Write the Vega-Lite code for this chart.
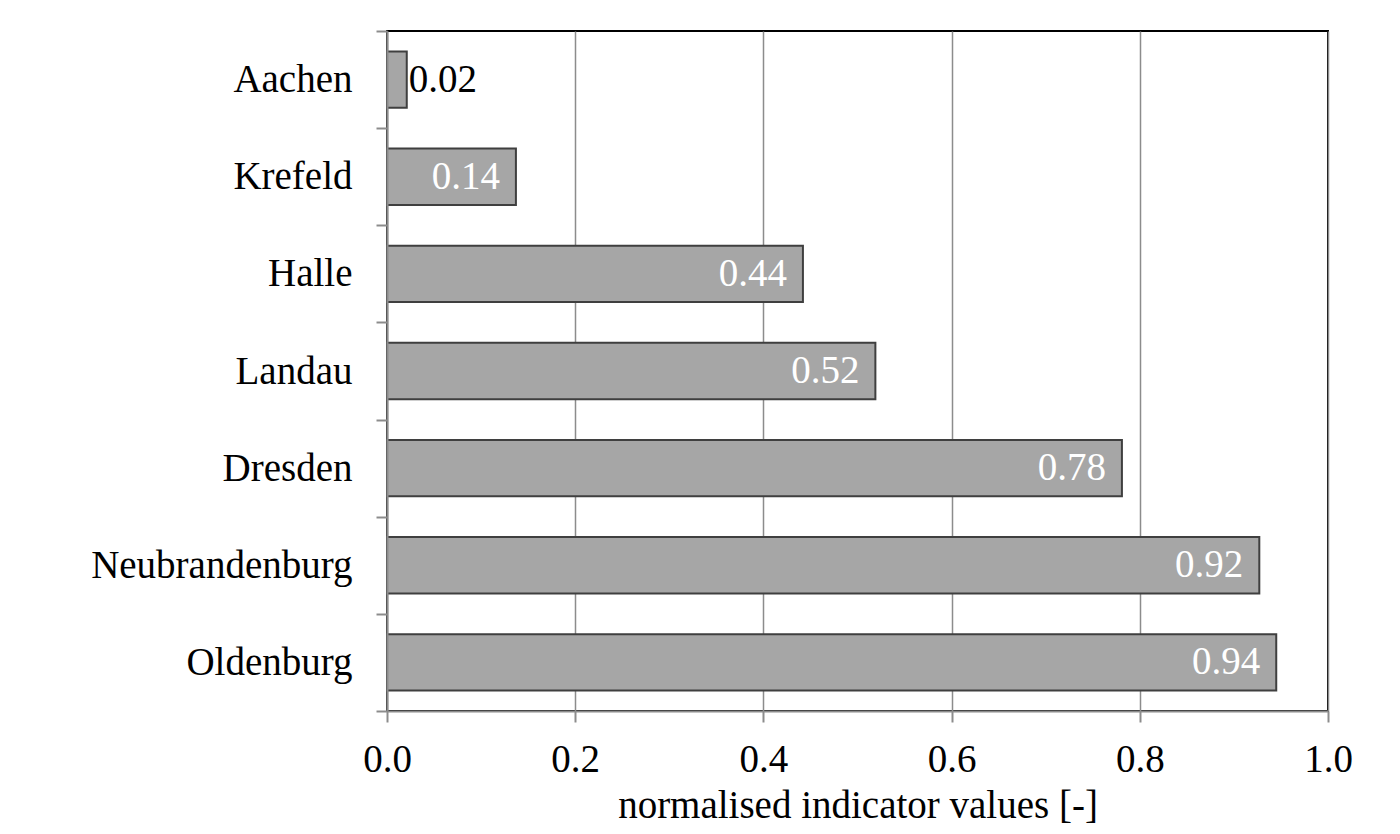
{
  "$schema": "https://vega.github.io/schema/vega-lite/v6.json",
  "width": 941,
  "height": 680,
  "autosize": {"type": "none"},
  "padding": {"left": 387, "top": 31, "right": 72, "bottom": 123},
  "background": "white",
  "config": {
    "font": "Liberation Serif",
    "view": {"stroke": "#000000", "strokeWidth": 2},
    "axis": {
      "labelFont": "Liberation Serif",
      "titleFont": "Liberation Serif",
      "labelFontSize": 39,
      "titleFontSize": 39,
      "labelColor": "#000000",
      "titleColor": "#000000",
      "titleFontWeight": "normal",
      "labelLimit": 0,
      "domainColor": "#8c8c8c",
      "domainWidth": 2,
      "tickColor": "#8c8c8c",
      "tickWidth": 2,
      "tickSize": 11,
      "gridColor": "#8c8c8c",
      "gridWidth": 1.5
    }
  },
  "data": {
    "values": [
      {"city": "Aachen", "value": 0.021, "label": "0.02"},
      {"city": "Krefeld", "value": 0.137, "label": "0.14"},
      {"city": "Halle", "value": 0.442, "label": "0.44"},
      {"city": "Landau", "value": 0.519, "label": "0.52"},
      {"city": "Dresden", "value": 0.781, "label": "0.78"},
      {"city": "Neubrandenburg", "value": 0.927, "label": "0.92"},
      {"city": "Oldenburg", "value": 0.945, "label": "0.94"}
    ]
  },
  "encoding": {
    "y": {
      "field": "city",
      "type": "nominal",
      "sort": null,
      "scale": {"paddingInner": 0, "paddingOuter": 0},
      "axis": {
        "title": null,
        "tickBand": "extent",
        "labelPadding": 24,
        "grid": false,
        "zindex": 1
      }
    },
    "x": {
      "field": "value",
      "type": "quantitative",
      "scale": {"domain": [0, 1], "nice": false},
      "axis": {
        "title": "normalised indicator values [-]",
        "values": [0, 0.2, 0.4, 0.6, 0.8, 1.0],
        "format": ".1f",
        "labelFlush": false,
        "labelOverlap": false,
        "labelPadding": 18,
        "titlePadding": 7,
        "grid": true,
        "zindex": 0
      }
    }
  },
  "layer": [
    {
      "mark": {"type": "bar", "height": {"band": 0.58}, "fill": "#a6a6a6", "stroke": "#3f3f3f", "strokeWidth": 2}
    },
    {
      "transform": [{"filter": "datum.value >= 0.05"}],
      "mark": {"type": "text", "align": "right", "baseline": "middle", "dx": -16, "fontSize": 39, "font": "Liberation Serif", "color": "#ffffff"},
      "encoding": {"text": {"field": "label"}}
    },
    {
      "transform": [{"filter": "datum.value < 0.05"}],
      "mark": {"type": "text", "align": "left", "baseline": "middle", "dx": 2, "fontSize": 39, "font": "Liberation Serif", "color": "#000000"},
      "encoding": {"text": {"field": "label"}}
    }
  ]
}
